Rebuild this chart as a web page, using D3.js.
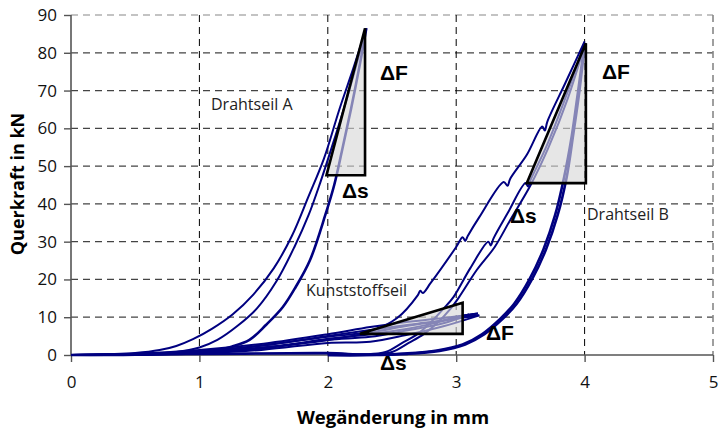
<!DOCTYPE html>
<html>
<head>
<meta charset="utf-8">
<script src="https://cdn.jsdelivr.net/npm/d3@7"></script>
<style>
html,body{margin:0;padding:0;background:#fff;}
svg{display:block;}
</style>
</head>
<body>
<svg id="chart" width="723" height="433"></svg>
<script>
// ---- data ----
const xTicks = [0, 1, 2, 3, 4, 5];
const yTicks = [0, 10, 20, 30, 40, 50, 60, 70, 80, 90];
const xTitle = "Wegänderung in mm";
const yTitle = "Querkraft in kN";

// Drahtseil A
const drahtA1 = [[0,0],[0.3,0.2],[0.5,0.5],[0.69,1.3],[0.82,2.4],[0.95,4.2],[1.1,7],[1.26,10.8],[1.42,16],[1.58,23],[1.72,31.5],[1.85,42],[1.97,52],[2.09,65],[2.2,76],[2.3,86.5]];
const drahtA2 = [[0,0],[0.5,0.2],[0.82,0.8],[1.0,2],[1.14,4],[1.3,7.8],[1.45,12.4],[1.6,19.5],[1.74,28.6],[1.85,37],[1.94,45.5],[2.05,57],[2.15,68],[2.3,86.5]];
const drahtA3 = [[2.3,86.5],[2.25,77],[2.18,65],[2.11,54],[2.05,45],[1.98,37],[1.86,25],[1.75,18],[1.65,12.7],[1.52,8],[1.39,4],[1.25,2.2],[1.14,1.3],[0.95,0.7],[0.78,0.5],[0.5,0.2],[0,0]];

// Drahtseil B
const drahtB1 = [[0,0],[1,0.8],[1.5,2],[2,4],[2.33,6.2],[2.54,9.8],[2.7,15.8],[2.72,17],[2.74,16.4],[2.8,19],[3.0,28.6],[3.05,31.2],[3.07,30.2],[3.09,31.5],[3.18,36.5],[3.37,45.8],[3.4,44.8],[3.42,46.6],[3.55,53],[3.67,60.5],[3.69,59.4],[3.71,61.8],[3.85,72],[4.0,83]];
const drahtB2 = [[0,0],[1,0.3],[2,0.6],[2.3,0.2],[2.45,0.8],[2.58,3.2],[2.7,5.6],[2.8,8.6],[2.9,12.2],[2.98,15.4],[3.11,23],[3.25,30],[3.27,29],[3.29,30.8],[3.4,37.5],[3.54,45.5],[3.56,44.6],[3.58,46.4],[3.7,55],[3.85,68],[4.0,82.5]];
const drahtB3 = [[0,0],[1,0.2],[2,0.4],[2.35,0.2],[2.5,0.8],[2.63,3.2],[2.75,5.6],[2.85,8.4],[2.95,12],[3.02,15.2],[3.16,22.5],[3.3,28.6],[3.42,35.7],[3.58,45],[3.72,55],[3.87,68],[4.0,82]];
const drahtB4 = [[4.0,82.5],[3.95,70],[3.9,58],[3.84,47],[3.77,37],[3.68,28],[3.57,20],[3.45,13.5],[3.34,9.5],[3.2,5.5],[3.05,2.8],[2.85,1.2],[2.6,0.4],[2.3,0],[2.0,0]];
const drahtB5 = [[4.0,82],[3.96,70],[3.91,58],[3.86,47],[3.79,37],[3.7,28],[3.59,20],[3.47,13.5],[3.36,9.5],[3.22,5.5],[3.07,2.8],[2.87,1.1],[2.62,0.3],[2.3,0],[2.0,0]];

// Kunststoffseil
const kunst1 = [[0,0],[0.5,0.3],[1,1.3],[1.5,3],[2,5.5],[2.33,7.4],[2.6,8.7],[2.9,9.8],[3.17,11]];
const kunst2 = [[0,0],[0.5,0.2],[1,1],[1.5,2.6],[2,4.8],[2.33,6],[2.6,7.6],[2.9,9.1],[3.15,10.4]];
const kunst3 = [[0.2,0],[0.6,0.2],[1,0.7],[1.5,2],[2,4],[2.33,4.8],[2.6,6.4],[2.9,8.4],[3.1,10.8]];
const kunst4 = [[0.4,0],[1,0.4],[1.5,1.4],[2,3.2],[2.33,3.5],[2.6,5.2],[2.9,7.6],[3.18,10.5]];
const kunst5 = [[3.17,11],[3.05,10.4],[2.9,9.2],[2.7,8.3],[2.5,7.4],[2.33,6.6],[2,5],[1.5,2.5],[1,0.9],[0.5,0.1],[0,0]];
const kunst6 = [[3.18,10.5],[3.0,9.8],[2.8,8.2],[2.6,6.8],[2.33,5.5],[2,4.3],[1.5,1.7],[1,0.6],[0.5,0],[0,0]];

// annotation triangles (data coords)
const triA = [[1.99,47.6],[2.29,86.5],[2.29,47.6]];
const triB = [[3.55,45.5],[4.01,82.5],[4.01,45.5]];
const triK = [[2.25,5.6],[3.05,13.8],[3.05,5.6]];

// ---- chart ----
const svg = d3.select("#chart");
const L = 71, R = 713, T = 15, B = 355;
const x = d3.scaleLinear().domain([0,5]).range([L,R]);
const y = d3.scaleLinear().domain([0,90]).range([B,T]);

// grid
const g = svg.append("g");
g.selectAll("line.hg").data(yTicks.filter(d=>d>0)).enter().append("line")
  .attr("x1",L).attr("x2",R).attr("y1",d=>y(d)).attr("y2",d=>y(d))
  .attr("stroke", d=> d===90 ? "#888" : "#444").attr("stroke-width",1.2).attr("stroke-dasharray","7,5");
g.selectAll("line.vg").data(xTicks.filter(d=>d>0)).enter().append("line")
  .attr("y1",T).attr("y2",B).attr("x1",d=>x(d)).attr("x2",d=>x(d))
  .attr("stroke", d=> d===5 ? "#888" : "#000").attr("stroke-width", d=> d===5 ? 1.6 : 1).attr("stroke-dasharray","7,5");

// axes
const xAxis = d3.axisBottom(x).tickValues(xTicks).tickSize(7).tickPadding(14).tickFormat(d3.format("d"));
const yAxis = d3.axisLeft(y).tickValues(yTicks).tickSize(7).tickPadding(7).tickFormat(d3.format("d"));
const gx = svg.append("g").attr("transform",`translate(0,${B})`).call(xAxis);
const gy = svg.append("g").attr("transform",`translate(${L},0)`).call(yAxis);
[gx,gy].forEach(a=>{
  a.select(".domain").attr("stroke","#555").attr("stroke-width",1.6);
  a.selectAll(".tick line").attr("stroke","#555").attr("stroke-width",1.4);
  a.selectAll(".tick text").attr("fill","#111").style("font-family","'Open Sans', sans-serif").style("font-size","17px");
});
gx.select(".domain").attr("d",`M${L},0H${R}`);
gy.select(".domain").attr("d",`M0,${B}V${T}`);

// curves
const line = d3.line().x(d=>x(d[0])).y(d=>y(d[1])).curve(d3.curveCatmullRom.alpha(0.5));
const thin = [drahtA1, drahtA2, drahtB1, drahtB2, drahtB3, kunst1, kunst2, kunst3, kunst4, kunst5, kunst6];
const thick = [drahtA3, drahtB4, drahtB5];
const cg = svg.append("g");
cg.selectAll("path.thin").data(thin).enter().append("path")
  .attr("d",line).attr("fill","none").attr("stroke","#000080").attr("stroke-width",2);
cg.selectAll("path.thick").data(thick).enter().append("path")
  .attr("d",line).attr("fill","none").attr("stroke","#000080").attr("stroke-width",2.6);

// triangles
const poly = d3.line().x(d=>x(d[0])).y(d=>y(d[1]));
svg.selectAll("path.tri").data([triA,triB,triK]).enter().append("path")
  .attr("d", d=>poly(d)+"Z")
  .attr("fill","rgba(215,215,215,0.62)").attr("stroke","#000").attr("stroke-width",2.6).attr("stroke-linejoin","miter");

// labels
const lab = (t,px,py,opt={})=>svg.append("text").attr("x",px).attr("y",py).text(t)
  .style("font-family", opt.ff || "'Open Sans', sans-serif")
  .style("font-size", opt.fs || "16px").style("font-weight", opt.fw || "normal")
  .attr("fill", opt.fill || "#222").attr("text-anchor", opt.anchor || "start");
lab("Drahtseil A", 211, 110);
lab("Drahtseil B", 587, 220);
lab("Kunststoffseil", 306, 296);
const bold = {ff:"'Liberation Sans', Arial, sans-serif", fs:"21px", fw:"bold", fill:"#000"};
lab("ΔF", 380, 80, bold);
lab("ΔF", 602, 79, bold);
lab("ΔF", 486, 340, bold);
lab("Δs", 342, 198, bold);
lab("Δs", 510, 223, bold);
lab("Δs", 380, 370, bold);

// axis titles
svg.append("text").attr("x", 393).attr("y", 424).attr("text-anchor","middle")
  .style("font-family","'Open Sans', sans-serif").style("font-weight","bold").style("font-size","18.5px")
  .attr("fill","#000").text(xTitle);
svg.append("text").attr("transform",`translate(24,${184}) rotate(-90)`).attr("text-anchor","middle")
  .style("font-family","'Open Sans', sans-serif").style("font-weight","bold").style("font-size","18px")
  .attr("fill","#000").text(yTitle);
</script>
</body>
</html>
